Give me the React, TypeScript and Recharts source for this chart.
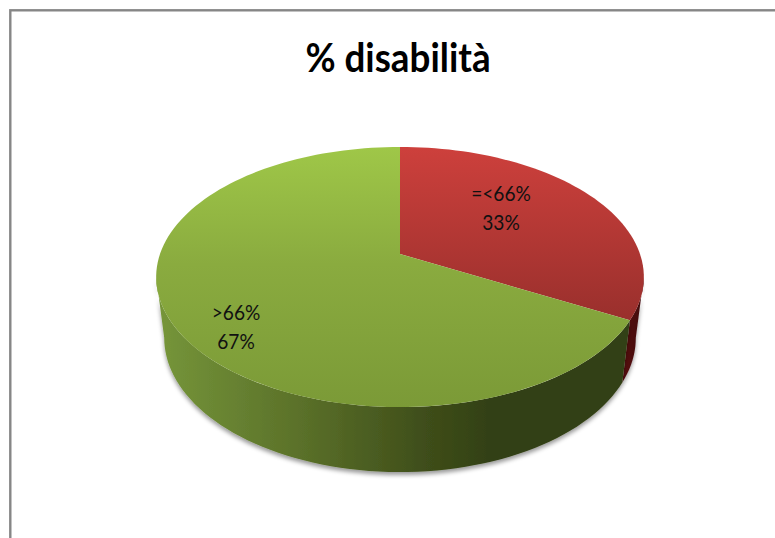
import { Pie, PieChart } from "recharts"

const categories = ["=<66%", ">66%"]
const shares = [33, 67]
const topFills = ["url(#redTop)", "url(#greenTop)"]
const wallFills = ["url(#redWall)", "url(#greenWall)"]

const data = categories.map((name, i) => ({ name, value: shares[i] }))

const WIDTH = 775
const HEIGHT = 538
const CX = 400
const CY = 254
const RADIUS = 240

// the 3D pie is a circle seen in perspective, so sector angles go through this
const TILT = 0.177
const topRing = { a: 1, b: 0.525, dy: 0 }
const bottomRing = { a: 0.967, b: 0.542, dy: 60 }

// the wall only shows between the two side tangents of the ellipse
const SIDE_ANGLE = (Math.asin(TILT) * 180) / Math.PI

type Ring = typeof topRing

function project(angle: number, ring: Ring, cx: number, cy: number, r: number) {
    const rad = (angle * Math.PI) / 180
    const u = Math.cos(rad)
    const v = Math.sin(rad)
    const d = 1 + TILT * v
    return [cx + (r * ring.a * u) / d, cy + ring.dy - (r * ring.b * v) / d]
}

function arcPoints(start: number, end: number, ring: Ring, cx: number, cy: number, r: number) {
    const steps = Math.max(2, Math.ceil(Math.abs(end - start) / 2))
    const pts: number[][] = []
    for (let i = 0; i <= steps; i++) {
        pts.push(project(start + ((end - start) * i) / steps, ring, cx, cy, r))
    }
    return pts
}

const toPath = (pts: number[][]) =>
    pts.map((p, i) => `${i === 0 ? "M" : "L"}${p[0].toFixed(2)},${p[1].toFixed(2)}`).join(" ") + " Z"

function TopSlice(props: any) {
    const { cx, cy, outerRadius, startAngle, endAngle, index } = props
    const pts = [[cx, cy], ...arcPoints(startAngle, endAngle, topRing, cx, cy, outerRadius)]
    return <path d={toPath(pts)} fill={topFills[index]} />
}

function WallSlice(props: any) {
    const { cx, cy, outerRadius, startAngle, endAngle, index } = props
    const from = Math.min(startAngle, -SIDE_ANGLE)
    const to = Math.max(endAngle, -180 + SIDE_ANGLE)
    if (from <= to) return null
    const upper = arcPoints(from, to, topRing, cx, cy, outerRadius)
    const lower = arcPoints(to, from, bottomRing, cx, cy, outerRadius)
    return <path d={toPath([...upper, ...lower])} fill={wallFills[index]} filter="url(#wallShadow)" />
}

const labelPos = [
    { x: 501, y: 201 },
    { x: 236, y: 320 },
]

function sliceLabel(props: any) {
    const { index, name, value } = props
    const { x, y } = labelPos[index]
    return (
        <text
            transform={`translate(${x},${y}) scale(0.87,1)`}
            textAnchor="middle"
            fontFamily="Lato"
            fontSize={22}
            fill="#111"
        >
            <tspan x={0}>{name}</tspan>
            <tspan x={0} dy={29}>{value}%</tspan>
        </text>
    )
}

export default function App() {
    return (
        <div style={{ position: "absolute", left: 0, top: 0, width: WIDTH, height: HEIGHT }}>
            <PieChart width={WIDTH} height={HEIGHT} margin={{ top: 0, right: 0, bottom: 0, left: 0 }}>
                <defs>
                    <linearGradient id="greenTop" gradientUnits="userSpaceOnUse" x1="0" y1="147" x2="0" y2="407">
                        <stop offset="0" stopColor="#9fc748" />
                        <stop offset="0.45" stopColor="#8aab3f" />
                        <stop offset="1" stopColor="#7b9a37" />
                    </linearGradient>
                    <linearGradient id="redTop" gradientUnits="userSpaceOnUse" x1="0" y1="147" x2="0" y2="325">
                        <stop offset="0" stopColor="#cd403c" />
                        <stop offset="1" stopColor="#982f2c" />
                    </linearGradient>
                    <linearGradient id="greenWall" gradientUnits="userSpaceOnUse" x1="156" y1="0" x2="644" y2="0">
                        <stop offset="0" stopColor="#76963a" />
                        <stop offset="0.3" stopColor="#5a7029" />
                        <stop offset="0.55" stopColor="#3f4e1a" />
                        <stop offset="0.7" stopColor="#313f13" />
                        <stop offset="1" stopColor="#333f14" />
                    </linearGradient>
                    <linearGradient id="redWall" gradientUnits="userSpaceOnUse" x1="622" y1="0" x2="644" y2="0">
                        <stop offset="0" stopColor="#5a0f12" />
                        <stop offset="1" stopColor="#3f0c0e" />
                    </linearGradient>
                    <filter id="wallShadow" x="-5%" y="-5%" width="110%" height="115%">
                        <feDropShadow dx="0" dy="3" stdDeviation="2" floodColor="#000" floodOpacity="0.4" />
                    </filter>
                </defs>
                <rect x={10.3} y={10.3} width={WIDTH + 20} height={HEIGHT + 20} fill="#fff" stroke="#868686" strokeWidth={2.4} />
                <text
                    transform="translate(398,72) scale(0.92,1)"
                    textAnchor="middle"
                    fontFamily="Lato"
                    fontWeight={700}
                    fontSize={40}
                    fill="#000"
                >
                    % disabilità
                </text>
                <Pie
                    data={data}
                    dataKey="value"
                    nameKey="name"
                    cx={CX}
                    cy={CY}
                    outerRadius={RADIUS}
                    startAngle={90}
                    endAngle={-270}
                    stroke="none"
                    shape={WallSlice}
                    isAnimationActive={false}
                />
                <Pie
                    data={data}
                    dataKey="value"
                    nameKey="name"
                    cx={CX}
                    cy={CY}
                    outerRadius={RADIUS}
                    startAngle={90}
                    endAngle={-270}
                    stroke="none"
                    shape={TopSlice}
                    label={sliceLabel}
                    labelLine={false}
                    isAnimationActive={false}
                />
            </PieChart>
        </div>
    )
}
